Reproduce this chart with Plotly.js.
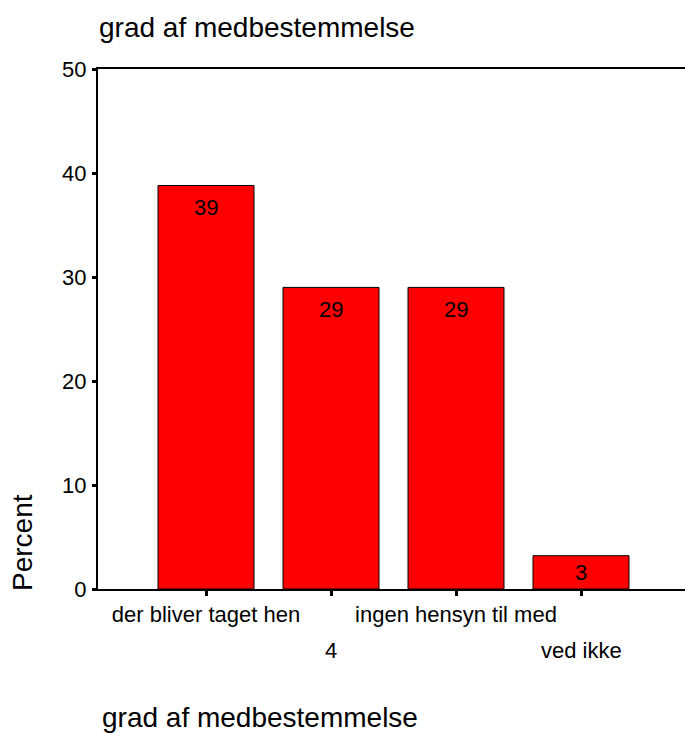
<!DOCTYPE html>
<html>
<head>
<meta charset="utf-8">
<script src="https://cdn.plot.ly/plotly-3.0.1.min.js"></script>
<style>html,body{margin:0;padding:0;background:#fff;}#chart{width:685px;height:733px;}</style>
</head>
<body>
<div id="chart"></div>
<script>
const chartTitle = "grad af medbestemmelse";
const xTitle = "grad af medbestemmelse";
const yTitle = "Percent";
const categories = ["der bliver taget hen", "4", "ingen hensyn til med", "ved ikke"];
const percents = [38.8, 29.0, 29.0, 3.2];
const yTickVals = [0, 10, 20, 30, 40, 50];

const FONT = "Liberation Sans, Arial, sans-serif";
const W = 685, H = 733;
const M = {l: 98, r: 0, t: 69, b: 144};
const plotW = W - M.l - M.r;
const plotH = H - M.t - M.b;
const yMax = 50;
const pxPerUnit = plotH / yMax;
const idx = categories.map((c, i) => i);

const bar = {
  type: 'bar',
  x: idx,
  y: percents,
  width: 0.768,
  marker: {color: '#ff0000', line: {color: '#000000', width: 1}},
  hoverinfo: 'skip'
};

const annotations = [];
// value labels inside bars
percents.forEach((v, i) => {
  annotations.push({
    x: i, y: v, xref: 'x', yref: 'y',
    text: String(Math.round(v)),
    showarrow: false,
    xanchor: 'center', yanchor: 'middle',
    yshift: -Math.min(22, v * pxPerUnit / 2),
    font: {family: FONT, size: 22, color: '#000'}
  });
});
// second row of staggered category labels
categories.forEach((c, i) => {
  if (i % 2 === 1) {
    annotations.push({
      x: i, y: -61 / plotH, xref: 'x', yref: 'paper',
      text: c, showarrow: false,
      xanchor: 'center', yanchor: 'middle',
      font: {family: FONT, size: 22, color: '#000'}
    });
  }
});
// bottom axis title (left aligned)
annotations.push({
  x: (100 - M.l) / plotW, y: -(717 - (M.t + plotH)) / plotH, xref: 'paper', yref: 'paper',
  text: xTitle, showarrow: false, xanchor: 'left', yanchor: 'middle',
  font: {family: FONT, size: 28, color: '#000'}
});
// y axis title
annotations.push({
  x: (22 - M.l) / plotW, y: (589 - 543) / plotH, xref: 'paper', yref: 'paper',
  text: yTitle, showarrow: false, textangle: -90, xanchor: 'center', yanchor: 'middle',
  font: {family: FONT, size: 28, color: '#000'}
});

const layout = {
  width: W, height: H,
  margin: M,
  paper_bgcolor: '#fff', plot_bgcolor: '#fff',
  showlegend: false,
  font: {family: FONT, size: 22, color: '#000'},
  title: {
    text: chartTitle,
    x: 99 / W, xref: 'container', xanchor: 'left',
    y: 1 - 27 / H, yref: 'container', yanchor: 'middle',
    font: {family: FONT, size: 28, color: '#000'}
  },
  xaxis: {
    range: [-0.864, categories.length - 1 + 0.832],
    tickvals: idx,
    ticktext: categories.map((c, i) => i % 2 === 0 ? c : ''),
    ticks: 'outside', ticklen: 5, tickwidth: 3, tickcolor: '#000',
    showline: true, linecolor: '#000', linewidth: 2, mirror: true,
    showgrid: false, zeroline: false, fixedrange: true,
    tickfont: {family: FONT, size: 22, color: '#000'}
  },
  yaxis: {
    range: [0, yMax],
    tickvals: yTickVals,
    ticks: 'outside', ticklen: 4, tickwidth: 3, tickcolor: '#000',
    ticklabelstandoff: 1,
    showline: true, linecolor: '#000', linewidth: 2,
    showgrid: false, zeroline: false, fixedrange: true,
    tickfont: {family: FONT, size: 22, color: '#000'}
  },
  annotations: annotations
};

Plotly.newPlot('chart', [bar], layout, {staticPlot: true, displayModeBar: false});
</script>
</body>
</html>
